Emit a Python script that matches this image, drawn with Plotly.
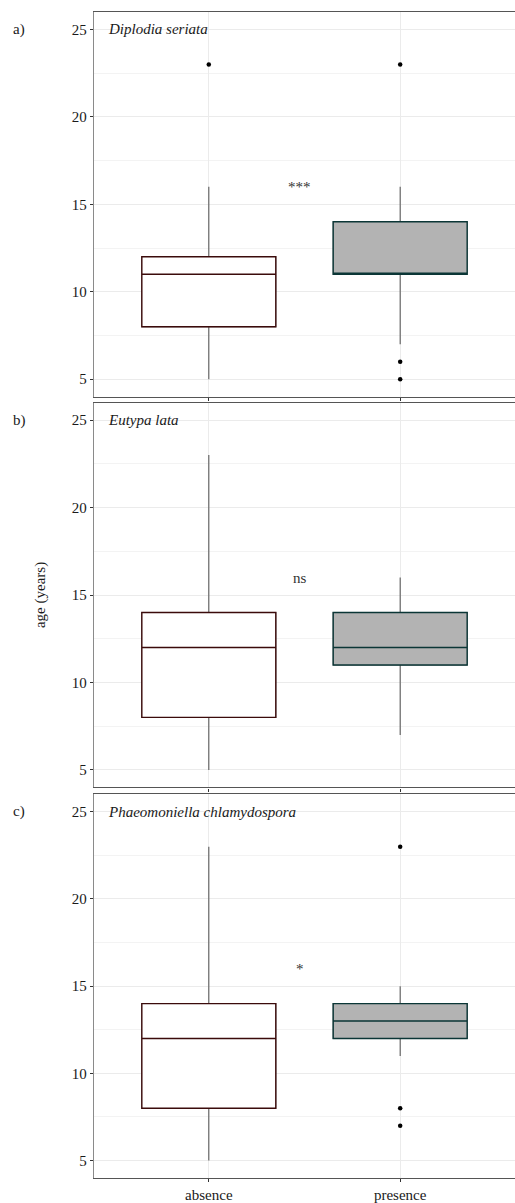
import plotly.graph_objects as go

# ---- data ----
panels = ["a)", "b)", "c)"]
species = ["Diplodia seriata", "Eutypa lata", "Phaeomoniella chlamydospora"]
signif = ["***", "ns", "*"]
groups = ["absence", "presence"]

# per panel: [absence, presence]
lowerfence = [[5, 7], [5, 7], [5, 11]]
q1 = [[8, 11], [8, 11], [8, 12]]
median = [[11, 11], [12, 12], [12, 13]]
q3 = [[12, 14], [14, 14], [14, 14]]
upperfence = [[16, 16], [23, 16], [23, 15]]
outliers = [
    [[23], [5, 6, 23]],
    [[], []],
    [[], [7, 8, 23]],
]

y_ticks = [5, 10, 15, 20, 25]
sig_y = 16

# ---- style ----
FONT = "Liberation Serif"
border_col = ["#3b0b0b", "#0b3636"]
fill_col = ["#ffffff", "#b3b3b3"]
whisker_col = "#5a5a5a"

domains = [(0.6692, 0.9900), (0.3433, 0.6642), (0.0175, 0.3375)]

fig = go.Figure()
layout = dict(
    width=515, height=1203,
    margin=dict(l=0, r=0, t=0, b=0),
    paper_bgcolor="white", plot_bgcolor="white",
    showlegend=False,
    boxmode="overlay",
    font=dict(family=FONT, size=15, color="#333333"),
)
annotations = []

for p in range(3):
    xa = "x" if p == 0 else f"x{p+1}"
    ya = "y" if p == 0 else f"y{p+1}"
    for g in range(2):
        # whiskers (grey)
        fig.add_trace(go.Box(
            x=[groups[g]], q1=[q1[p][g]], median=[median[p][g]], q3=[q3[p][g]],
            lowerfence=[lowerfence[p][g]], upperfence=[upperfence[p][g]],
            width=0.7, whiskerwidth=0, boxpoints=False,
            line=dict(color=whisker_col, width=1.1), fillcolor="rgba(0,0,0,0)",
            xaxis=xa, yaxis=ya, hoverinfo="skip",
        ))
        # coloured box
        fig.add_trace(go.Box(
            x=[groups[g]], q1=[q1[p][g]], median=[median[p][g]], q3=[q3[p][g]],
            lowerfence=[q1[p][g]], upperfence=[q3[p][g]],
            width=0.7, whiskerwidth=0, boxpoints=False,
            line=dict(color=border_col[g], width=1.4), fillcolor=fill_col[g],
            xaxis=xa, yaxis=ya,
        ))
        if outliers[p][g]:
            fig.add_trace(go.Scatter(
                x=[groups[g]] * len(outliers[p][g]), y=outliers[p][g],
                mode="markers", marker=dict(color="black", size=4.5),
                xaxis=xa, yaxis=ya,
            ))

    xkey = "xaxis" if p == 0 else f"xaxis{p+1}"
    ykey = "yaxis" if p == 0 else f"yaxis{p+1}"
    layout[xkey] = dict(
        domain=[0.1825, 1.0], anchor=ya, type="category",
        categoryorder="array", categoryarray=groups,
        range=[-0.6, 1.6],
        showline=True, mirror=True, linecolor="#555555", linewidth=1.3,
        showgrid=True, gridcolor="#ebebeb", gridwidth=1,
        ticks="outside", ticklen=3, tickcolor="#333333",
        showticklabels=(p == 2),
        tickfont=dict(family=FONT, size=15, color="#1a1a1a"),
        zeroline=False, fixedrange=True,
    )
    layout[ykey] = dict(
        domain=list(domains[p]), anchor=xa,
        range=[4, 26],
        tickvals=y_ticks,
        showline=True, mirror=False, linecolor="#8a8a8a", linewidth=1.3,
        showgrid=True, gridcolor="#ebebeb", gridwidth=1,
        minor=dict(tickvals=[7.5, 12.5, 17.5, 22.5], showgrid=True,
                   gridcolor="#f3f3f3", gridwidth=1, ticks=""),
        ticks="outside", ticklen=3, tickcolor="#333333",
        tickfont=dict(family=FONT, size=15, color="#1a1a1a"),
        zeroline=False, fixedrange=True,
    )
    annotations.append(dict(
        text=f"<i>{species[p]}</i>", xref=f"{xa} domain", x=0.028, xanchor="left",
        yref=ya, y=25, yanchor="middle", showarrow=False,
        font=dict(family=FONT, size=15, color="#1a1a1a"),
    ))
    annotations.append(dict(
        text=panels[p], xref="paper", x=0.021, xanchor="left",
        yref=ya, y=25, yanchor="middle", showarrow=False,
        font=dict(family=FONT, size=15, color="#1a1a1a"),
    ))
    annotations.append(dict(
        text=signif[p], xref=xa, x=0.475, xanchor="center",
        yref=ya, y=sig_y, yanchor="middle", showarrow=False,
        font=dict(family=FONT, size=15, color="#333333"),
    ))

annotations.append(dict(
    text="age (years)", xref="paper", x=40 / 515, xanchor="center",
    yref="paper", y=0.5037, yanchor="middle", textangle=-90, showarrow=False,
    font=dict(family=FONT, size=15, color="#1a1a1a"),
))
layout["annotations"] = annotations
fig.update_layout(**layout)
fig.write_html("out.html")
